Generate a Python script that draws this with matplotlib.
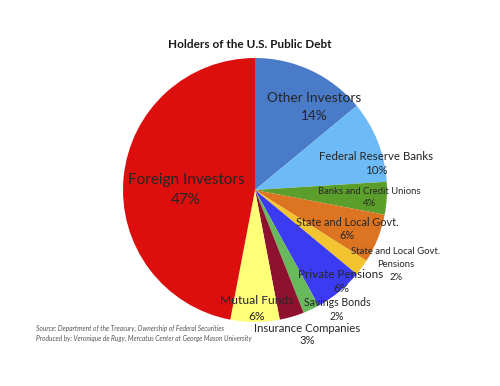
import matplotlib
matplotlib.use("Agg")
import matplotlib.pyplot as plt

# Data
categories = ["Other Investors", "Federal Reserve Banks", "Banks and Credit Unions",
              "State and Local Govt.", "State and Local Govt.\nPensions", "Private Pensions",
              "Savings Bonds", "Insurance Companies", "Mutual Funds", "Foreign Investors"]
values = [14, 10, 4, 6, 2, 6, 2, 3, 6, 47]
colors = ["#4A7BC8", "#6CBBF7", "#5C9E2C", "#DC7422", "#F2C530", "#3B3BF2",
          "#68B85C", "#8E1230", "#FFFF78", "#DC0E0E"]

# Layout: label x center, y of first line (pixels), font size, line gap (pixels)
label_x = [314, 376, 369, 347, 396, 341, 337, 307, 257, 186]
label_y0 = [98, 156, 192, 222, 252, 275, 303, 328, 300, 180]
label_size = [9.8, 8.3, 6.8, 7.8, 6.8, 8.4, 7.6, 8.2, 8.7, 11]
label_gap = [18, 15, 12, 13, 12.5, 14, 13, 13, 16, 20]

W, H = 500, 386
fig = plt.figure(figsize=(W / 100, H / 100), dpi=100)
plt.rcParams['font.family'] = ['Lato', 'DejaVu Sans']

cx, cy, r = 255, 190, 132
ax = fig.add_axes([(cx - r) / W, 1 - (cy + r) / H, 2 * r / W, 2 * r / H])
ax.pie(values, colors=colors, startangle=90, counterclock=False,
       wedgeprops=dict(linewidth=0))
ax.set_aspect("equal")
ax.set_xlim(-1, 1)
ax.set_ylim(-1, 1)
ax.axis("off")

for cat, v, px, py, s, g in zip(categories, values, label_x, label_y0, label_size, label_gap):
    lines = cat.split("\n") + [f"{v}%"]
    for i, line in enumerate(lines):
        fig.text(px / W, 1 - (py + i * g) / H, line, ha="center", va="center",
                 fontsize=s, color="#262626")

fig.text(250 / W, 1 - 45 / H, "Holders of the U.S. Public Debt", ha="center", va="center",
         fontsize=8.5, fontweight="bold", color="#1a1a1a")

fig.text(36 / W, 1 - 328 / H, "Source: Department of the Treasury, Ownership of Federal Securities",
         ha="left", va="center", fontsize=4.8, style="italic", color="#555555")
fig.text(36 / W, 1 - 338 / H, "Produced by: Veronique de Rugy, Mercatus Center at George Mason University",
         ha="left", va="center", fontsize=4.8, style="italic", color="#555555")

fig.savefig("out.png", dpi=100)
